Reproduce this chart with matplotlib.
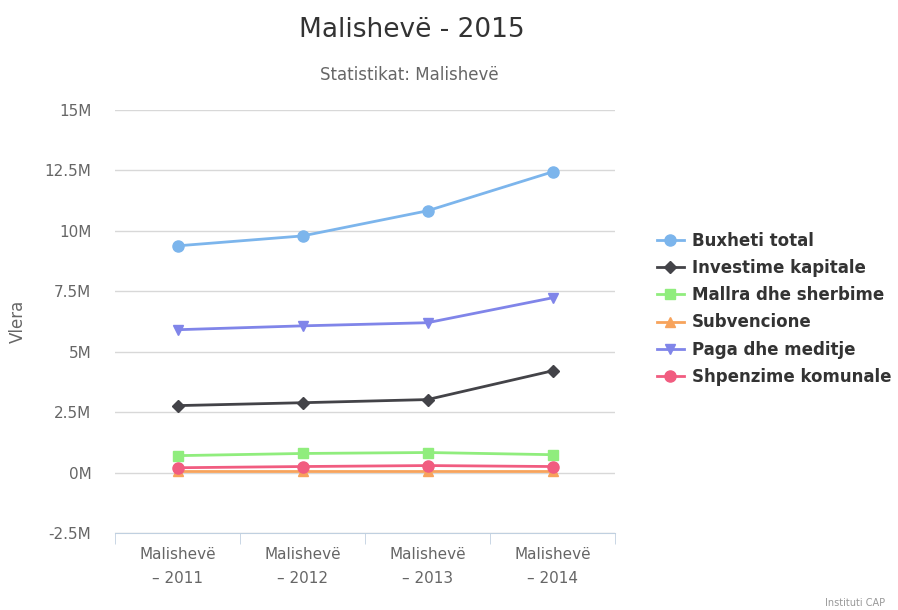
import matplotlib.pyplot as plt
from matplotlib.ticker import FixedLocator

categories = ["Malishevë\n– 2011", "Malishevë\n– 2012", "Malishevë\n– 2013", "Malishevë\n– 2014"]
buxheti = [9.38, 9.79, 10.83, 12.44]
investime = [2.77, 2.89, 3.02, 4.21]
mallra = [0.70, 0.79, 0.83, 0.74]
subvencione = [0.08, 0.08, 0.08, 0.08]
paga = [5.91, 6.07, 6.20, 7.23]
shpenzime = [0.20, 0.25, 0.29, 0.25]
yticks = [-2.5, 0, 2.5, 5, 7.5, 10, 12.5, 15]
ytick_labels = ["-2.5M", "0M", "2.5M", "5M", "7.5M", "10M", "12.5M", "15M"]

series = [
    ("Buxheti total", buxheti, "#7cb5ec", "o", 8),
    ("Investime kapitale", investime, "#434348", "D", 6),
    ("Mallra dhe sherbime", mallra, "#90ed7d", "s", 7),
    ("Subvencione", subvencione, "#f7a35c", "^", 7),
    ("Paga dhe meditje", paga, "#8085e9", "v", 7),
    ("Shpenzime komunale", shpenzime, "#f15c80", "o", 8),
]

fig = plt.figure(figsize=(8.98, 6.10), dpi=100)
ax = fig.add_axes([115 / 898, 1 - 533 / 610, 500 / 898, (533 - 110) / 610])

x = list(range(len(categories)))
for name, vals, color, marker, ms in series:
    ax.plot(x, vals, color=color, marker=marker, markersize=ms, linewidth=2, label=name)

ax.set_xlim(-0.5, 3.5)
ax.set_ylim(-2.5, 15)
ax.set_yticks(yticks)
ax.set_yticklabels(ytick_labels)
ax.set_xticks(x)
ax.set_xticklabels([])
ax.xaxis.set_minor_locator(FixedLocator([-0.5, 0.5, 1.5, 2.5, 3.5]))
ax.tick_params(axis="x", which="major", length=0)
ax.tick_params(axis="x", which="minor", length=8, color="#c0d0e0")
ax.tick_params(axis="y", length=0, labelcolor="#666666", labelsize=11, pad=17)
# category labels with wider line spacing, like the original
for xi, cat in zip(x, categories):
    ax.text(xi, -14 / 423, cat, transform=ax.get_xaxis_transform(), ha="center", va="top",
            fontsize=11, color="#666666", linespacing=1.75)
ax.grid(axis="y", color="#d8d8d8", linewidth=1)
ax.set_axisbelow(True)
for s in ["top", "right", "left"]:
    ax.spines[s].set_visible(False)
ax.spines["bottom"].set_color("#c0d0e0")
ax.spines["bottom"].set_position(("data", -2.5))

ax.set_ylabel("Vlera", color="#666666", fontsize=12)
ax.yaxis.set_label_coords(-88 / 500, 0.5)

fig.text(412 / 898, 1 - 30 / 610, "Malishevë - 2015", ha="center", va="center", fontsize=19, color="#333333")
fig.text(409 / 898, 1 - 75 / 610, "Statistikat: Malishevë", ha="center", va="center", fontsize=12, color="#666666")
fig.text(885 / 898, 1 - 603 / 610, "Instituti CAP", ha="right", va="center", fontsize=7, color="#999999")

ax.legend(loc="upper left", bbox_to_anchor=(657 / 898, 1 - 232 / 610), bbox_transform=fig.transFigure,
          frameon=False, prop={"weight": "bold", "size": 12}, labelcolor="#333333",
          handlelength=1.6, handletextpad=0.5, labelspacing=0.55, borderaxespad=0, borderpad=0)

fig.savefig("out.png", dpi=100)
